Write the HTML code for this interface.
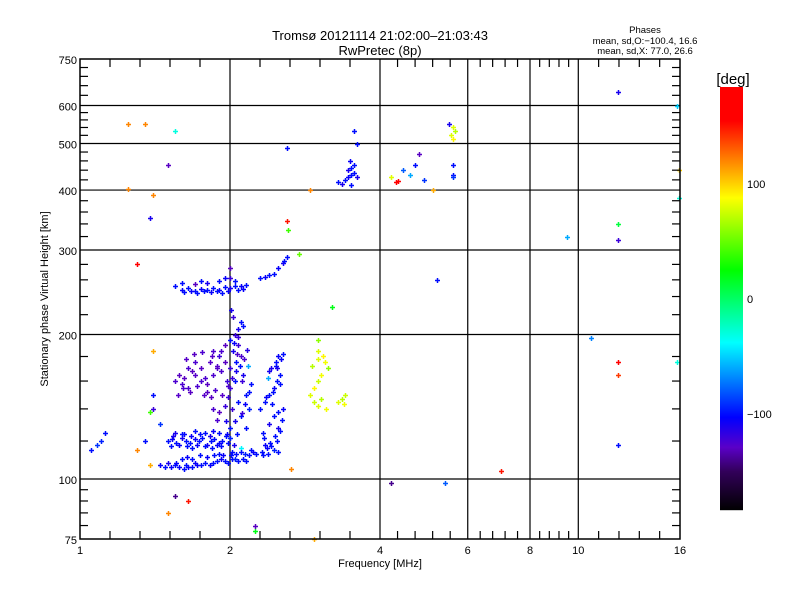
<!DOCTYPE html>
<html><head><meta charset="utf-8"><style>
body{margin:0;background:#fff;}
svg{display:block;font-family:"Liberation Sans",sans-serif;}
</style></head><body>
<svg id="chart" width="800" height="600" viewBox="0 0 800 600" xmlns="http://www.w3.org/2000/svg">
<rect width="800" height="600" fill="#fff"/>
<text x="380" y="40" font-size="13" text-anchor="middle">Tromsø 20121114 21:02:00–21:03:43</text>
<text x="380" y="55" font-size="13" text-anchor="middle">RwPretec (8p)</text>
<text x="645" y="33" font-size="9.5" text-anchor="middle">Phases</text>
<text x="645" y="44" font-size="9.5" text-anchor="middle">mean, sd,O:−100.4, 16.6</text>
<text x="645" y="54" font-size="9.5" text-anchor="middle">mean, sd,X:  77.0, 26.6</text>
<text transform="translate(48,299) rotate(-90)" font-size="11" text-anchor="middle">Stationary phase Virtual Height [km]</text>
<text x="380" y="567" font-size="11" text-anchor="middle">Frequency [MHz]</text>
<text x="733" y="84" font-size="15" text-anchor="middle">[deg]</text>
<g id="colorbar"></g>
<g id="grid"></g>
<g id="points"></g>
<g id="axes"></g>
</svg>
<script>
const freqs = [
1.45,1.48,1.52,1.55,1.58,1.62,1.65,1.68,1.72,1.75,1.78,1.82,1.85,1.88,1.92,1.95,1.98,2.02,2.05,2.08,2.12,2.15,1.5,1.56,1.63,1.7,
1.5,1.53,1.56,1.6,1.63,1.66,1.7,1.73,1.76,1.8,1.83,1.86,1.9,1.93,1.96,2.0,1.55,1.62,1.7,1.78,1.85,
2.32,2.38,2.45,2.5,2.35,2.42,2.48,2.52,2.4,2.45,2.5,2.55,2.35,2.4,2.45,2.48,2.52,2.42,2.47,2.5,2.55,2.38,2.3,2.33,
2.0,2.05,2.1,2.02,2.08,2.15,2.0,2.05,2.12,2.0,2.06,2.1,2.03,2.08,2.0,2.05,2.08,2.1,2.03,2.15,2.18,2.2,2.17,1.98,1.96,2.02,2.1,2.2,
1.55,1.58,1.6,1.62,1.65,1.7,1.75,1.8,1.85,1.88,1.92,1.95,1.9,1.85,1.95,1.82,1.7,1.75,1.97,1.65,1.85,1.9,1.95,1.88,1.8,
1.55,1.6,1.65,1.7,1.75,1.8,1.85,1.9,1.95,2.0,2.05,2.1,2.15,1.7,1.8,1.9,2.0,2.05,2.3,2.35,2.4,2.45,2.5,2.55,2.6,2.57,2.0,
2.9,2.95,3.0,3.05,2.92,3.0,3.08,3.1,2.95,3.0,3.05,3.12,3.3,3.35,3.4,3.38,3.0,3.15,
3.3,3.35,3.4,3.45,3.5,3.45,3.5,3.55,3.48,3.55,3.6,3.5,3.55,3.6,
4.2,4.3,4.35,4.45,4.6,4.7,4.8,4.9,5.1,5.6,5.6,5.6,5.55,5.6,5.6,5.65,5.5,5.2,4.2,5.4,7.0,9.5,10.6,12,12,12,12,12,12,15.8,15.9,15.9,15.8,
1.05,1.08,1.1,1.12,1.25,1.35,1.25,1.4,1.38,1.3,1.5,1.4,1.4,1.38,1.3,1.38,1.55,1.65,1.5,2.25,2.25,2.65,1.55,2.6,2.6,2.62,2.9,3.0,3.2,2.75,1.4,1.35,2.95,1.45,
1.6,1.64,1.68,1.74,1.8,1.86,1.9,1.94,2.06,2.1,2.14,2.18,2.22,2.26,
1.52,1.58,1.64,1.68,1.72,1.78,1.84,1.88,1.92,1.98,1.54,1.6,1.67,1.74,1.82,1.9,1.97,
2.33,2.37,2.41,2.46,2.5,2.54,2.36,2.44,2.52,2.39,2.47,2.53,2.34,2.43,2.49,
2.01,2.04,2.07,2.11,2.14,2.18,2.02,2.06,2.09,2.13,2.16,2.04,2.08,2.12,2.01,2.07,2.11,
1.57,1.61,1.66,1.72,1.77,1.83,1.87,1.93,1.98,1.63,1.69,1.76,1.84,1.92,1.68,1.78,1.88,
1.62,1.67,1.72,1.77,1.83,1.88,1.93,1.98,2.08,2.12,1.6,1.75,1.95
];
const heights = [
107,106,106,107,106,105,106,106,107,107,108,107,108,109,110,109,108,110,110,109,110,109,108,108,107,108,
120,121,119,122,120,119,121,120,122,118,120,121,119,120,123,122,125,124,126,125,126,
114,113,115,114,118,117,120,126,130,135,138,140,145,150,155,160,165,170,175,180,182,162,140,125,
128,132,135,140,145,150,155,160,165,170,175,180,185,190,195,200,205,212,218,128,140,158,172,148,132,114,116,115,
160,165,158,162,170,165,160,158,165,172,168,175,180,185,190,175,175,170,160,155,140,138,142,133,152,
252,248,250,247,249,248,250,248,251,250,252,253,254,255,256,258,262,258,262,264,266,268,275,282,290,285,275,
150,155,160,165,172,178,180,175,145,142,147,140,145,147,150,143,185,170,
415,412,420,425,430,440,445,450,460,435,425,410,530,498,
425,415,418,440,430,450,475,420,400,450,430,425,520,540,510,530,548,260,98,98,104,320,197,640,315,340,175,165,118,600,440,385,175,
115,118,120,125,550,548,402,390,350,280,450,185,150,138,115,107,92,90,85,80,78,105,530,490,345,330,400,195,228,295,140,120,75,130,
110,111,110,112,111,112,113,112,113,114,113,112,114,113,
117,118,117,116,118,117,116,118,117,119,123,124,123,124,123,125,124,
112,116,119,123,128,133,148,152,158,168,172,178,122,143,170,
112,118,124,137,143,152,162,168,172,178,186,192,198,208,225,182,160,
150,155,152,156,150,148,153,150,156,178,182,184,180,185,168,162,170,
245,246,244,247,245,246,244,246,248,249,256,258,262
];
const phases = [
-105,-100,-105,-100,-105,-100,-105,-100,-105,-100,-100,-105,-100,-100,-105,-100,-100,-100,-95,-100,-100,-100,-110,-105,-100,-105,
-100,-105,-100,-110,-100,-100,-105,-100,-100,-110,-100,-100,-105,-100,-100,-95,-110,-105,-100,-100,-105,
-100,-100,-95,-100,-105,-100,-100,-100,-110,-100,-100,-105,-100,-100,-105,-100,-100,-110,-100,-105,-100,-60,-100,-100,
-100,-110,-100,-120,-100,-100,-120,-100,-110,-120,-100,-125,-110,-120,-100,-120,-110,-100,-120,-100,-95,-100,-60,-120,-110,-100,-40,-100,
-125,-130,-125,-130,-125,-128,-125,-130,-125,-128,-125,-130,-120,-125,-130,-128,-125,-130,-120,-125,-125,-130,-120,-125,-130,
-100,-105,-100,-100,-105,-100,-100,-105,-100,-110,-100,-105,-100,-130,-110,-100,-120,-100,-100,-105,-100,-100,-105,-110,-100,-100,-130,
80,90,75,85,70,80,90,85,75,80,70,85,80,70,75,85,80,60,
-100,-110,-100,-105,-100,-110,-100,-100,-105,-100,-110,-100,-100,-100,
80,170,160,-80,-60,-100,-130,-90,110,-100,-100,-90,80,80,90,70,-110,-100,-140,-80,150,-60,-70,-110,-120,10,160,140,-100,-50,100,-30,-30,
-100,-90,-95,-100,120,120,120,120,-110,170,-130,110,-100,40,120,110,-140,150,120,-130,20,120,-30,-100,150,40,120,60,20,50,-120,-100,110,-90,
-100,-105,-100,-100,-105,-100,-100,-105,-100,-100,-95,-100,-105,-100,
-100,-105,-100,-100,-105,-100,-100,-105,-100,-100,-110,-100,-105,-100,-110,-100,-105,
-100,-105,-100,-100,-110,-100,-105,-100,-100,-110,-100,-105,-100,-100,-110,
-100,-110,-100,-120,-105,-100,-120,-110,-100,-125,-115,-105,-120,-100,-110,-125,-120,
-128,-125,-130,-125,-128,-130,-125,-128,-125,-128,-130,-125,-128,-125,-130,-125,-128,
-100,-105,-100,-100,-105,-100,-100,-105,-100,-105,-100,-100,-105
];
const xTickVals = [1,2,4,6,8,10,16];
const xTickLabels = ["1","2","4","6","8","10","16"];
const yTickVals = [75,100,200,300,400,500,600,750];
const yTickLabels = ["75","100","200","300","400","500","600","750"];
const yMinorVals = [80,85,90,95,120,140,160,180,220,240,260,280,320,340,360,380,420,440,460,480,520,540,560,580,630,660,690,720];
const cbTickVals = [100,0,-100];
const cbTickLabels = ["100","0","−100"];

const NS="http://www.w3.org/2000/svg";
const L=80,R=680,T=59,B=539;
function xs(f){return L+(R-L)*Math.log(f)/Math.log(16);}
function ys(h){return B-(B-T)*Math.log(h/75)/Math.log(10);}
const CB_T=87,CB_B=510;
function cs(p){return 299-p*1.15;}
const stops=[[-184,[0,0,0]],[-150,[50,0,90]],[-129,[90,0,200]],[-103,[0,0,255]],[-38,[0,255,255]],[25,[0,255,0]],[88,[255,255,0]],[155,[255,0,0]],[190,[255,0,0]]];
function color(p){
  for(let i=0;i<stops.length-1;i++){
    const a=stops[i],b=stops[i+1];
    if(p<=b[0]){const t=Math.max(0,(p-a[0])/(b[0]-a[0]));
      const c=a[1].map((v,k)=>Math.round(v+(b[1][k]-v)*t));return `rgb(${c[0]},${c[1]},${c[2]})`;}
  }
  return "rgb(255,0,0)";
}
function mk(tag,attrs,parent){const e=document.createElementNS(NS,tag);for(const k in attrs)e.setAttribute(k,attrs[k]);parent.appendChild(e);return e;}

const cb=document.getElementById('colorbar');
for(let y=CB_T;y<CB_B;y++){
  const p=(299-y-0.5)/1.15;
  const r=mk('rect',{x:720,y:y,width:23,height:1.2,fill:color(p)},cb);
  
  
}
cbTickVals.forEach((v,i)=>{
  const t=mk('text',{x:747,y:cs(v)+4,'font-size':11},cb);t.textContent=cbTickLabels[i];
  
  
});

const g=document.getElementById('grid');
xTickVals.slice(1,-1).forEach(v=>{const l=mk('line',{x1:xs(v),x2:xs(v),y1:T,y2:B,stroke:'#000','stroke-width':1.2},g);
  
  });
yTickVals.slice(1,-1).forEach(v=>{const l=mk('line',{x1:L,x2:R,y1:ys(v),y2:ys(v),stroke:'#000','stroke-width':1.2},g);
  
  });

const pg=document.getElementById('points');
for(let i=0;i<freqs.length;i++){
  const x=Math.round(xs(freqs[i]))+0.5,y=Math.round(ys(heights[i]))+0.5;
  const p=mk('path',{d:`M${x-2.5} ${y}H${x+2.5}M${x} ${y-2.5}V${y+2.5}`,stroke:color(phases[i]),'stroke-width':1.5},pg);
  
  
}

const ax=document.getElementById('axes');
const fr=mk('rect',{x:L,y:T,width:R-L,height:B-T,fill:'none',stroke:'#000','stroke-width':1.5},ax);


for(let i=0;i<xTickVals.length-1;i++){
  const a=xs(xTickVals[i]),b=xs(xTickVals[i+1]);
  for(let k=1;k<5;k++){const x=a+(b-a)*k/5;
    const t1=mk('line',{x1:x,x2:x,y1:B,y2:B-8,stroke:'#000','stroke-width':1.2},ax);
    
    
    const t2=mk('line',{x1:x,x2:x,y1:T,y2:T+8,stroke:'#000','stroke-width':1.2},ax);
    
    }
}
yMinorVals.forEach(v=>{const y=ys(v);
  const t1=mk('line',{x1:L,x2:L+8,y1:y,y2:y,stroke:'#000','stroke-width':1.2},ax);
  
  
  const t2=mk('line',{x1:R,x2:R-8,y1:y,y2:y,stroke:'#000','stroke-width':1.2},ax);
  
  });
xTickVals.forEach((v,i)=>{const t=mk('text',{x:xs(v),y:554,'font-size':11,'text-anchor':'middle'},ax);t.textContent=xTickLabels[i];
  
  });
yTickVals.forEach((v,i)=>{const t=mk('text',{x:77,y:ys(v)+5,'font-size':11,'text-anchor':'end'},ax);t.textContent=yTickLabels[i];
  
  });
</script>
</body></html>
